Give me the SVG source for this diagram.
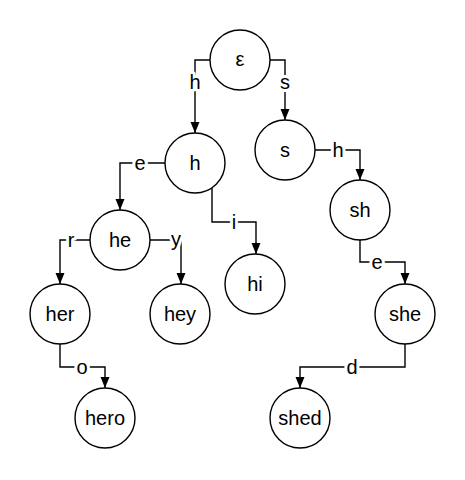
<svg xmlns="http://www.w3.org/2000/svg" width="465" height="480" viewBox="0 0 465 480">
<style>
.node circle{fill:#fff;stroke:#000;stroke-width:1.4}
text{font-family:"Liberation Sans",Arial,sans-serif;font-size:20px;fill:#000;text-anchor:middle}
.edges path{fill:none;stroke:#000;stroke-width:1.4;marker-end:url(#arr)}
.lbl{stroke:#fff;stroke-width:6;paint-order:stroke;stroke-linejoin:round}
</style>
<defs>
<marker id="arr" markerUnits="userSpaceOnUse" markerWidth="12" markerHeight="10" refX="11" refY="4.5" orient="auto">
<path d="M0,0 L11,4.5 L0,9 z" fill="#000"/>
</marker>
</defs>
<rect width="465" height="480" fill="#fff"/>
<g class="edges">
<path d="M210,60 H195 V133"/>
<path d="M270,60 H285 V120"/>
<path d="M165,163 H120 V210"/>
<path d="M212,188 V222 H256 V254"/>
<path d="M315,150 H360 V180"/>
<path d="M90,240 H60 V284"/>
<path d="M150,240 H181 V284"/>
<path d="M360,240 V262 H405 V284"/>
<path d="M60,344 V367 H105 V388"/>
<path d="M405,344 V367 H300 V388"/>
<text class="lbl" x="195" y="89">h</text>
<text class="lbl" x="285" y="89">s</text>
<text class="lbl" x="140" y="170">e</text>
<text class="lbl" x="234" y="229">i</text>
<text class="lbl" x="338" y="157">h</text>
<text class="lbl" x="71" y="247">r</text>
<text class="lbl" x="176" y="246">y</text>
<text class="lbl" x="377" y="269">e</text>
<text class="lbl" x="82" y="374">o</text>
<text class="lbl" x="352" y="374">d</text>
</g>
<g id="n-eps" class="node"><circle cx="240" cy="60" r="30"/><text x="240" y="66">ε</text></g>
<g id="n-h" class="node"><circle cx="195" cy="163" r="30"/><text x="195" y="170">h</text></g>
<g id="n-s" class="node"><circle cx="285" cy="150" r="30"/><text x="285" y="157">s</text></g>
<g id="n-he" class="node"><circle cx="120" cy="240" r="30"/><text x="120" y="247">he</text></g>
<g id="n-hi" class="node"><circle cx="255" cy="284" r="30"/><text x="255" y="291">hi</text></g>
<g id="n-sh" class="node"><circle cx="360" cy="210" r="30"/><text x="360" y="217">sh</text></g>
<g id="n-her" class="node"><circle cx="60" cy="314" r="30"/><text x="60" y="321">her</text></g>
<g id="n-hey" class="node"><circle cx="180" cy="314" r="30"/><text x="180" y="321">hey</text></g>
<g id="n-she" class="node"><circle cx="405" cy="314" r="30"/><text x="405" y="321">she</text></g>
<g id="n-hero" class="node"><circle cx="105" cy="418" r="30"/><text x="105" y="425">hero</text></g>
<g id="n-shed" class="node"><circle cx="300" cy="418" r="30"/><text x="300" y="425">shed</text></g>
</svg>
